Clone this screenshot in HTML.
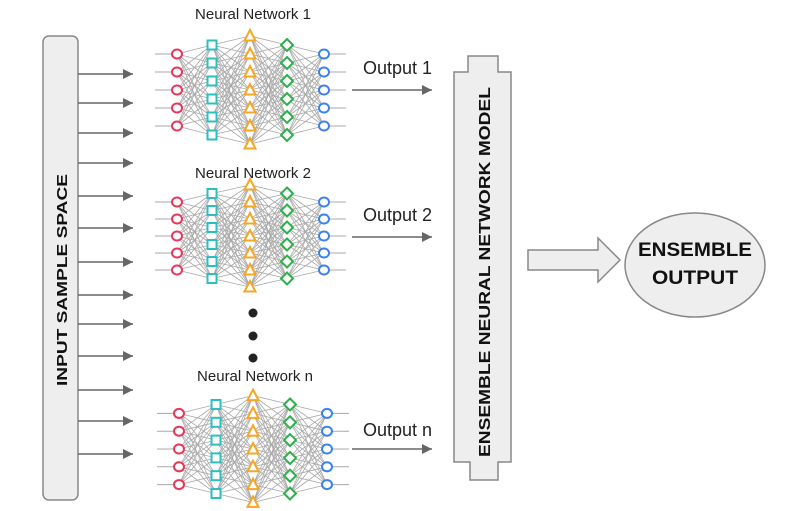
<!DOCTYPE html>
<html><head><meta charset="utf-8"><style>
html,body{margin:0;padding:0;background:#fff;width:806px;height:511px;overflow:hidden}
svg{display:block;font-family:"Liberation Sans",sans-serif}
</style></head><body>
<svg id="s" width="806" height="511" viewBox="0 0 806 511" xmlns="http://www.w3.org/2000/svg">
<defs><marker id="ah" viewBox="0 0 10 10" refX="10" refY="5" markerWidth="12" markerHeight="10" markerUnits="userSpaceOnUse" orient="auto"><path d="M0,0L10,5L0,10Z" fill="#666"/></marker></defs>
<rect x="43" y="36" width="35" height="464" rx="6" fill="#eee" stroke="#888" stroke-width="1.5"/>
<text transform="translate(67,280) rotate(-90)" text-anchor="middle" font-weight="bold" font-size="15" textLength="212" lengthAdjust="spacingAndGlyphs" fill="#111">INPUT SAMPLE SPACE</text>
<g id="arrows" stroke="#666" stroke-width="1.5"></g>
<g id="nets"></g>
<text x="253" y="19" text-anchor="middle" font-size="15" fill="#222">Neural Network 1</text>
<text x="253" y="178" text-anchor="middle" font-size="15" fill="#222">Neural Network 2</text>
<text x="255" y="381" text-anchor="middle" font-size="15" fill="#222">Neural Network n</text>
<text x="363" y="74" font-size="18" fill="#222">Output 1</text>
<text x="363" y="221" font-size="18" fill="#222">Output 2</text>
<text x="363" y="436" font-size="18" fill="#222">Output n</text>
<line x1="352" y1="90" x2="432" y2="90" stroke="#666" stroke-width="1.5" marker-end="url(#ah)"/>
<line x1="352" y1="237" x2="432" y2="237" stroke="#666" stroke-width="1.5" marker-end="url(#ah)"/>
<line x1="352" y1="449" x2="432" y2="449" stroke="#666" stroke-width="1.5" marker-end="url(#ah)"/>
<circle cx="253" cy="313" r="4.5" fill="#222"/><circle cx="253" cy="336" r="4.5" fill="#222"/><circle cx="253" cy="358" r="4.5" fill="#222"/>
<path d="M454,72H468V56H498V72H511V462H498V480H470V462H454Z" fill="#eee" stroke="#888" stroke-width="1.5"/>
<text transform="translate(490,272) rotate(-90)" text-anchor="middle" font-weight="bold" font-size="16" textLength="370" lengthAdjust="spacingAndGlyphs" fill="#111">ENSEMBLE NEURAL NETWORK MODEL</text>
<path d="M528,250H598V238L620,260L598,282V270H528Z" fill="#eee" stroke="#888" stroke-width="1.5"/>
<ellipse cx="695" cy="265" rx="70" ry="52" fill="#eee" stroke="#888" stroke-width="1.5"/>
<text x="695" y="256" text-anchor="middle" font-weight="bold" font-size="19" textLength="114" lengthAdjust="spacingAndGlyphs" fill="#111">ENSEMBLE</text>
<text x="695" y="284" text-anchor="middle" font-weight="bold" font-size="19" textLength="86" lengthAdjust="spacingAndGlyphs" fill="#111">OUTPUT</text>
</svg>
<script>
var NS="http://www.w3.org/2000/svg";
function el(p,t,a){var e=document.createElementNS(NS,t);for(var k in a)e.setAttribute(k,a[k]);p.appendChild(e);return e;}
var ar=document.getElementById("arrows");
[74,103,133,163,196,228,262,295,324,356,390,421,454].forEach(function(y){
 el(ar,"line",{x1:78,y1:y,x2:133,y2:y,"marker-end":"url(#ah)"});
});
var g=document.getElementById("nets");
var counts=[5,6,7,6,5],cols=["#e8375a","#2bbfbf","#f5a623","#2bb04a","#3b82f0"];
function net(xs,cy,s){
 var pts=counts.map(function(n,i){var a=[];for(var j=0;j<n;j++)a.push([xs[i],cy+(j-(n-1)/2)*s]);return a;});
 var eg=el(g,"g",{stroke:"#a8a8a8","stroke-width":"0.8"});
 for(var i=0;i<4;i++)pts[i].forEach(function(p){pts[i+1].forEach(function(q){el(eg,"line",{x1:p[0],y1:p[1],x2:q[0],y2:q[1]});});});
 pts[0].forEach(function(p){el(eg,"line",{x1:p[0]-22,y1:p[1],x2:p[0],y2:p[1],"stroke-width":"1"});});
 pts[4].forEach(function(p){el(eg,"line",{x1:p[0],y1:p[1],x2:p[0]+22,y2:p[1],"stroke-width":"1"});});
 var ng=el(g,"g",{fill:"#fff","stroke-width":"2"});
 pts.forEach(function(L,i){L.forEach(function(p){var x=p[0],y=p[1],c=cols[i];
  if(i==0||i==4)el(ng,"ellipse",{cx:x,cy:y,rx:5,ry:4.5,stroke:c});
  else if(i==1)el(ng,"rect",{x:x-4.5,y:y-4.5,width:9,height:9,stroke:c});
  else if(i==2)el(ng,"path",{d:"M"+x+","+(y-6)+"L"+(x+5.5)+","+(y+4.5)+"L"+(x-5.5)+","+(y+4.5)+"Z",stroke:c});
  else el(ng,"path",{d:"M"+x+","+(y-6)+"L"+(x+6)+","+y+"L"+x+","+(y+6)+"L"+(x-6)+","+y+"Z",stroke:c});
 });});
}
net([177,212,250,287,324],90,18);
net([177,212,250,287,324],236,17);
net([179,216,253,290,327],449,17.8);
</script>
</body></html>
